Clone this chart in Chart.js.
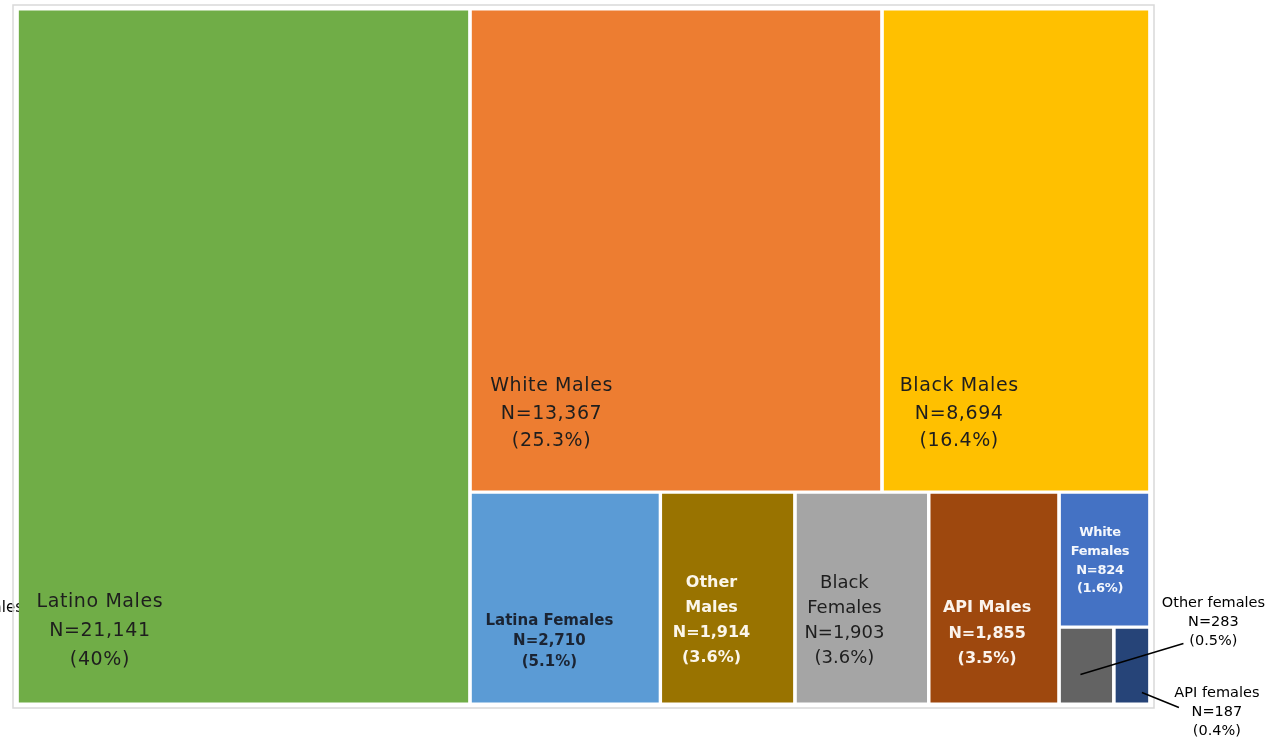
<!DOCTYPE html>
<html lang="en">
<head>
    <meta charset="UTF-8">
    <title>Treemap</title>
    <style>
        body {
            margin: 0;
            padding: 0;
            background: #fff;
        }

        .container {
            position: relative;
            width: 1265px;
            height: 739px;
        }
    </style>
</head>
<body>
    <div class="container">
        <canvas id="myChart"></canvas>
    </div>

    <script src="https://cdn.jsdelivr.net/npm/chart.js"></script>
    <script>
        // data
        var categories = ['Latino Males', 'White Males', 'Black Males', 'Latina Females', ['Other', 'Males'],
            ['Black', 'Females'], 'API Males', ['White', 'Females'], 'Other females', 'API females'];
        var counts = [21141, 13367, 8694, 2710, 1914, 1903, 1855, 824, 283, 187];
        var percents = ['40%', '25.3%', '16.4%', '5.1%', '3.6%', '3.6%', '3.5%', '1.6%', '0.5%', '0.4%'];
        var colors = ['#70AD47', '#ED7D31', '#FFC000', '#5B9BD5', '#997300',
            '#A5A5A5', '#9E480E', '#4472C4', '#636363', '#264478'];

        // label styling per cell: where the text sits inside the cell (fraction of w/h)
        var labelStyle = [
            { fx: 0.183, fy: 0.895, font: '19px "DejaVu Sans"', ls: '0.6px', lh: 29, color: '#1e1e1e' },
            { fx: 0.198, fy: 0.838, font: '19px "DejaVu Sans"', ls: '0.6px', lh: 27.5, color: '#1e1e1e' },
            { fx: 0.288, fy: 0.838, font: '19px "DejaVu Sans"', ls: '0.6px', lh: 27.5, color: '#1e1e1e' },
            { fx: 0.417, fy: 0.705, font: 'bold 15px "DejaVu Sans"', ls: '0px', lh: 20.5, color: '#1b2433' },
            { fx: 0.38, fy: 0.606, font: 'bold 16px "DejaVu Sans"', ls: '0px', lh: 25, color: '#fbf6ea' },
            { fx: 0.37, fy: 0.606, font: '18px "DejaVu Sans"', ls: '0px', lh: 25, color: '#1e1e1e' },
            { fx: 0.448, fy: 0.667, font: 'bold 16px "DejaVu Sans"', ls: '0px', lh: 25.5, color: '#fbf3ec' },
            { fx: 0.45, fy: 0.51, font: 'bold 13px "DejaVu Sans"', ls: '-0.3px', lh: 18.7, color: '#f4f7fc' },
            null,
            null
        ];

        // the two smallest cells get their label outside with a leader line (px offsets from cell centre)
        var callouts = {
            8: { from: [-6, 9], to: [97, -22], text: [127, -43] },
            9: { from: [10, 27], to: [47, 42], text: [85, 47] }
        };

        var PAD = { left: 17, top: 9, right: 115, bottom: 35 };
        var AREA_W = 1265 - PAD.left - PAD.right;
        var AREA_H = 739 - PAD.top - PAD.bottom;
        var ASPECT = AREA_W / AREA_H;

        function worst(row, side) {
            var s = 0, mx = -Infinity, mn = Infinity;
            row.forEach(function (a) { s += a; mx = Math.max(mx, a); mn = Math.min(mn, a); });
            return Math.max(side * side * mx / (s * s), (s * s) / (side * side * mn));
        }

        // squarified treemap in a box of ASPECT x 1
        function squarify(vals, x, y, w, h) {
            var total = vals.reduce(function (a, b) { return a + b; }, 0);
            var areas = vals.map(function (v) { return v * w * h / total; });
            var out = [];
            var i = 0;
            while (i < areas.length) {
                var side = Math.min(w, h);
                var row = [areas[i]];
                var j = i + 1;
                while (j < areas.length && worst(row.concat(areas[j]), side) <= worst(row, side)) {
                    row.push(areas[j]);
                    j++;
                }
                var s = row.reduce(function (a, b) { return a + b; }, 0);
                if (w >= h) {
                    var cw = s / h, yy = y;
                    row.forEach(function (a) {
                        var rh = a / cw;
                        out.push({ x0: x, x1: x + cw, y0: yy, y1: yy + rh });
                        yy += rh;
                    });
                    x += cw; w -= cw;
                } else {
                    var rh = s / w, xx = x;
                    row.forEach(function (a) {
                        var rw = a / rh;
                        out.push({ x0: xx, x1: xx + rw, y0: y, y1: y + rh });
                        xx += rw;
                    });
                    y += rh; h -= rh;
                }
                i = j;
            }
            return out;
        }

        var cells = squarify(counts, 0, 0, ASPECT, 1);
        var gx = 1.6 * ASPECT / AREA_W;
        var gy = 1.6 / AREA_H;

        // each cell is a flat line along its top edge, filled down to its bottom edge
        var datasets = cells.map(function (c, i) {
            return {
                label: Array.isArray(categories[i]) ? categories[i].join(' ') : categories[i],
                data: [{ x: c.x0 + gx, y: c.y0 + gy }, { x: c.x1 - gx, y: c.y0 + gy }],
                fill: { value: c.y1 - gy },
                backgroundColor: colors[i],
                borderColor: colors[i],
                borderWidth: 0,
                pointRadius: 0,
                pointHoverRadius: 0
            };
        });

        var framePlugin = {
            id: 'frame',
            beforeDatasetsDraw: function (chart) {
                var a = chart.chartArea, ctx = chart.ctx;
                ctx.save();
                // clipped label stub at the far left edge, partly hidden behind the first cell
                ctx.textAlign = 'right';
                ctx.textBaseline = 'middle';
                ctx.font = '15px "DejaVu Sans"';
                ctx.fillStyle = '#000';
                ctx.fillText('Females', a.left + 6, 608);
                ctx.strokeStyle = '#d9d9d9';
                ctx.lineWidth = 1.5;
                ctx.strokeRect(a.left - 4, a.top - 4, a.right - a.left + 8, a.bottom - a.top + 8);
                ctx.restore();
            }
        };

        var labelPlugin = {
            id: 'cellLabels',
            afterDatasetsDraw: function (chart) {
                var ctx = chart.ctx, xs = chart.scales.x, ys = chart.scales.y;
                ctx.save();
                ctx.textAlign = 'center';
                ctx.textBaseline = 'middle';
                cells.forEach(function (c, i) {
                    var px0 = xs.getPixelForValue(c.x0), px1 = xs.getPixelForValue(c.x1);
                    var py0 = ys.getPixelForValue(c.y0), py1 = ys.getPixelForValue(c.y1);
                    var name = Array.isArray(categories[i]) ? categories[i] : [categories[i]];
                    var lines = name.concat(['N=' + counts[i].toLocaleString('en-US'), '(' + percents[i] + ')']);
                    var st = labelStyle[i];
                    if (st) {
                        var cx = px0 + st.fx * (px1 - px0);
                        var cy = py0 + st.fy * (py1 - py0);
                        ctx.font = st.font;
                        ctx.letterSpacing = st.ls;
                        ctx.fillStyle = st.color;
                        lines.forEach(function (t, k) {
                            ctx.fillText(t, cx, cy + (k - (lines.length - 1) / 2) * st.lh);
                        });
                    } else if (callouts[i]) {
                        var co = callouts[i];
                        var mx = (px0 + px1) / 2, my = (py0 + py1) / 2;
                        ctx.strokeStyle = '#000';
                        ctx.lineWidth = 1.5;
                        ctx.beginPath();
                        ctx.moveTo(mx + co.from[0], my + co.from[1]);
                        ctx.lineTo(mx + co.to[0], my + co.to[1]);
                        ctx.stroke();
                        ctx.font = '14.5px "DejaVu Sans"';
                        ctx.letterSpacing = '0px';
                        ctx.fillStyle = '#000';
                        lines.forEach(function (t, k) {
                            ctx.fillText(t, mx + co.text[0], my + co.text[1] + (k - 1) * 19);
                        });
                    }
                });
                ctx.restore();
            }
        };

        var ctx = document.getElementById('myChart').getContext('2d');
        var myChart = new Chart(ctx, {
            type: 'line',
            data: { datasets: datasets },
            options: {
                responsive: true,
                maintainAspectRatio: false,
                animation: false,
                layout: { padding: PAD },
                plugins: {
                    legend: { display: false },
                    tooltip: { enabled: false },
                    filler: { propagate: false }
                },
                scales: {
                    x: { type: 'linear', min: 0, max: ASPECT, display: false },
                    y: { type: 'linear', min: 0, max: 1, reverse: true, display: false }
                }
            },
            plugins: [framePlugin, labelPlugin]
        });
    </script>
</body>
</html>
